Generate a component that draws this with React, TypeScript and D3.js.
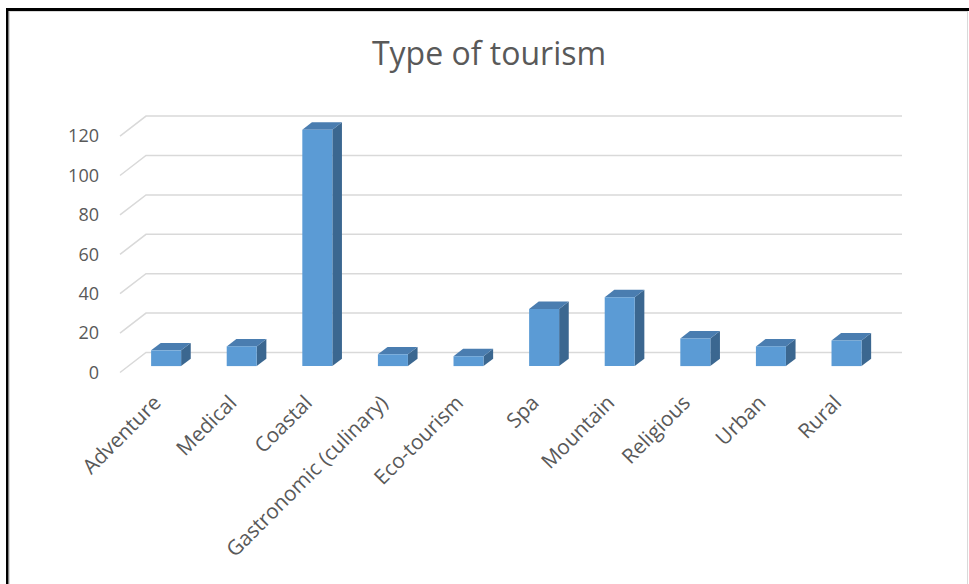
import React from "react";
import * as d3 from "d3";

const categories = [
  "Adventure",
  "Medical",
  "Coastal",
  "Gastronomic (culinary)",
  "Eco-tourism",
  "Spa",
  "Mountain",
  "Religious",
  "Urban",
  "Rural",
];
const values = [8, 10, 120, 6, 5, 29, 35, 14, 10, 13];
const yTicks = [0, 20, 40, 60, 80, 100, 120];
const title = "Type of tourism";

const W = 969;
const H = 584;
const DEPTH_DX = -26;
const DEPTH_DY = 20;
const D_FRONT = 0.68;
const D_BACK = 0.31;

export default function App() {
  const y = d3.scaleLinear().domain([0, 120]).range([352.5, 116.1]);
  const x = d3
    .scaleBand<string>()
    .domain(categories)
    .range([146, 902])
    .paddingInner(0.603)
    .paddingOuter(0.3015);

  const proj = (px: number, py: number, d: number): [number, number] => [
    px + DEPTH_DX * d,
    py + DEPTH_DY * d,
  ];
  const pts = (arr: [number, number][]) => arr.map((p) => p.join(",")).join(" ");

  const font = "'Open Sans', sans-serif";

  return (
    <svg
      width={W}
      height={H}
      style={{ position: "absolute", left: 0, top: 0, background: "#fff" }}
    >
      <rect x={0} y={0} width={W} height={H} fill="#fff" />
      {/* frame */}
      <rect x={9.5} y={11.5} width={958} height={H} fill="none" stroke="#d9d9d9" strokeWidth={1} />
      <rect x={6} y={8} width={W - 6} height={3} fill="#000" />
      <rect x={6} y={8} width={2.5} height={H - 8} fill="#000" />

      <text
        x={489}
        y={65}
        textAnchor="middle"
        fontFamily={font}
        fontSize={32}
        fill="#595959"
      >
        {title}
      </text>

      {/* gridlines */}
      {yTicks.map((t) => {
        const yb = y(t);
        const front = proj(146, yb, 1);
        return (
          <polyline
            key={t}
            points={pts([front, [146, yb], [902, yb]])}
            fill="none"
            stroke="#d9d9d9"
            strokeWidth={1.5}
          />
        );
      })}

      {/* y tick labels */}
      {yTicks.map((t) => (
        <text
          key={"l" + t}
          x={99}
          y={y(t) + DEPTH_DY}
          dy="0.35em"
          textAnchor="end"
          fontFamily={font}
          fontSize={18}
          fill="#595959"
        >
          {t}
        </text>
      ))}

      {/* bars */}
      {categories.map((c, i) => {
        const v = values[i];
        const x0 = x(c)!;
        const x1 = x0 + x.bandwidth();
        const yt = y(v);
        const yb = y(0);
        const ftl = proj(x0, yt, D_FRONT);
        const ftr = proj(x1, yt, D_FRONT);
        const fbr = proj(x1, yb, D_FRONT);
        const fbl = proj(x0, yb, D_FRONT);
        const btl = proj(x0, yt, D_BACK);
        const btr = proj(x1, yt, D_BACK);
        const bbr = proj(x1, yb, D_BACK);
        return (
          <g key={c}>
            <polygon points={pts([ftr, btr, bbr, fbr])} fill="#3b6790" />
            <polygon points={pts([ftl, ftr, btr, btl])} fill="#4a7db0" />
            <polygon points={pts([ftl, ftr, fbr, fbl])} fill="#5b9bd5" />
          </g>
        );
      })}

      {/* category labels */}
      {categories.map((c) => {
        const cx = x(c)! + x.bandwidth() / 2 + DEPTH_DX * D_FRONT;
        return (
          <text
            key={"c" + c}
            transform={`translate(${cx - 9},${399}) rotate(-45)`}
            textAnchor="end"
            dy="0.35em"
            fontFamily={font}
            fontSize={20.7}
            fill="#595959"
          >
            {c}
          </text>
        );
      })}
    </svg>
  );
}
